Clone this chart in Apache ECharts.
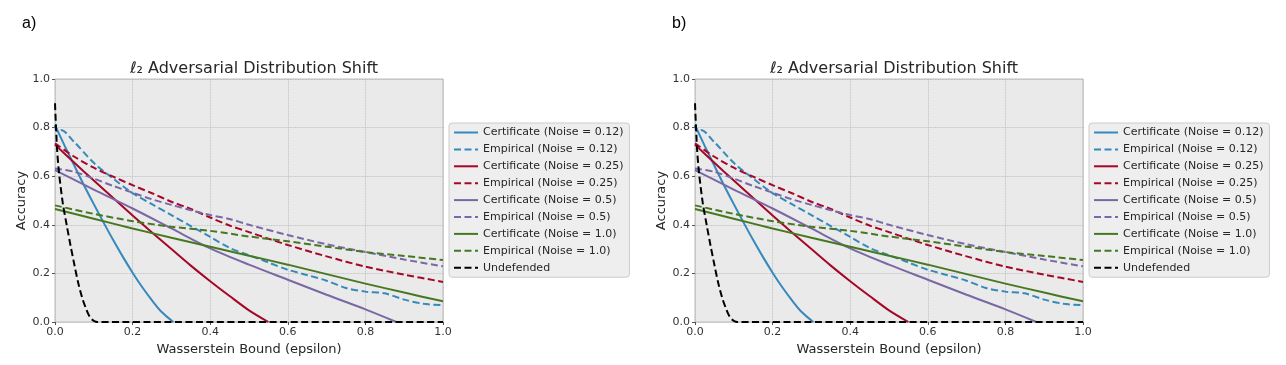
<!DOCTYPE html>
<html>
<head>
<meta charset="utf-8">
<script src="https://cdn.jsdelivr.net/npm/echarts@6/dist/echarts.min.js"></script>
<style>
html, body { margin: 0; padding: 0; background: #fff; }
#main { width: 1286px; height: 365px; }
</style>
</head>
<body>
<div id="main"></div>
<script>
// series data: [epsilon, accuracy]
var certNoise012 = [[0,0.81],[0.025,0.725],[0.05,0.643],[0.075,0.562],[0.1,0.485],[0.125,0.41],[0.15,0.337],[0.175,0.268],[0.2,0.203],[0.225,0.143],[0.25,0.089],[0.275,0.041],[0.305,0]];
var empNoise012 = [[0,0.81],[0.005,0.785],[0.015,0.79],[0.05,0.74],[0.1,0.655],[0.15,0.59],[0.2,0.53],[0.25,0.485],[0.3,0.44],[0.35,0.395],[0.4,0.35],[0.45,0.305],[0.5,0.275],[0.55,0.245],[0.6,0.215],[0.65,0.193],[0.7,0.17],[0.75,0.14],[0.8,0.125],[0.85,0.118],[0.9,0.092],[0.95,0.075],[1.0,0.069]];
var certNoise025 = [[0,0.73],[0.05,0.655],[0.1,0.582],[0.15,0.51],[0.2,0.438],[0.25,0.368],[0.3,0.3],[0.35,0.232],[0.4,0.168],[0.45,0.107],[0.5,0.048],[0.55,0]];
var empNoise025 = [[0,0.735],[0.05,0.68],[0.1,0.635],[0.15,0.598],[0.2,0.563],[0.25,0.53],[0.3,0.495],[0.35,0.465],[0.4,0.43],[0.45,0.397],[0.5,0.37],[0.55,0.343],[0.6,0.317],[0.7,0.27],[0.8,0.228],[0.9,0.195],[1.0,0.165]];
var certNoise05 = [[0,0.625],[0.1,0.545],[0.2,0.467],[0.3,0.385],[0.4,0.303],[0.5,0.236],[0.6,0.174],[0.7,0.112],[0.8,0.052],[0.88,0]];
var empNoise05 = [[0,0.632],[0.05,0.618],[0.1,0.59],[0.15,0.56],[0.2,0.532],[0.25,0.505],[0.3,0.482],[0.35,0.46],[0.4,0.44],[0.45,0.424],[0.5,0.4],[0.6,0.358],[0.7,0.32],[0.8,0.288],[0.9,0.257],[1.0,0.229]];
var certNoise10 = [[0,0.465],[0.1,0.425],[0.2,0.385],[0.3,0.347],[0.4,0.31],[0.5,0.273],[0.6,0.236],[0.7,0.197],[0.8,0.158],[0.9,0.121],[1.0,0.085]];
var empNoise10 = [[0,0.48],[0.1,0.445],[0.2,0.415],[0.3,0.392],[0.4,0.375],[0.5,0.352],[0.6,0.332],[0.7,0.31],[0.8,0.288],[0.9,0.272],[1.0,0.255]];
var undefended = [[0,0.9],[0.005,0.72],[0.01,0.62],[0.02,0.49],[0.03,0.4],[0.04,0.315],[0.05,0.235],[0.06,0.16],[0.07,0.1],[0.08,0.055],[0.09,0.02],[0.1,0.005],[0.11,0],[1.0,0]];

var seriesNames = ['Certificate (Noise = 0.12)', 'Empirical (Noise = 0.12)', 'Certificate (Noise = 0.25)', 'Empirical (Noise = 0.25)',
    'Certificate (Noise = 0.5)', 'Empirical (Noise = 0.5)', 'Certificate (Noise = 1.0)', 'Empirical (Noise = 1.0)', 'Undefended'];
var seriesData = [certNoise012, empNoise012, certNoise025, empNoise025, certNoise05, empNoise05, certNoise10, empNoise10, undefended];
var seriesColors = ['#348ABD', '#348ABD', '#A60628', '#A60628', '#7A68A6', '#7A68A6', '#467821', '#467821', '#000000'];
var seriesDashed = [false, true, false, true, false, true, false, true, true];
var tickLabels = ['0.0', '0.2', '0.4', '0.6', '0.8', '1.0'];
var panelLabels = ['a)', 'b)'];

var font = 'DejaVu Sans';
var panelLeft = [55, 695];
var legendLeft = [449, 1089];

var grids = [], xAxes = [], yAxes = [], series = [], legends = [], titles = [];

for (var p = 0; p < 2; p++) {
    grids.push({
        left: panelLeft[p], top: 79, width: 388, height: 243,
        show: true, backgroundColor: '#eaeaea', borderColor: '#bcbcbc', borderWidth: 1
    });
    xAxes.push({
        gridIndex: p, type: 'value', min: 0, max: 1, interval: 0.2,
        name: 'Wasserstein Bound (epsilon)', nameLocation: 'middle', nameGap: 18,
        nameTextStyle: { fontFamily: font, fontSize: 13, color: '#262626' },
        axisLine: { show: false },
        axisTick: { show: true, length: 3, lineStyle: { color: '#555' } },
        axisLabel: { fontFamily: font, fontSize: 11, color: '#333', margin: 5,
            formatter: function (v) { return tickLabels[Math.round(v * 5)]; } },
        splitLine: { show: true, lineStyle: { color: '#b2b2b2', type: 'dotted', width: 0.8 } }
    });
    yAxes.push({
        gridIndex: p, type: 'value', min: 0, max: 1, interval: 0.2,
        name: 'Accuracy', nameLocation: 'middle', nameGap: 27,
        nameTextStyle: { fontFamily: font, fontSize: 13, color: '#262626' },
        axisLine: { show: false },
        axisTick: { show: true, length: 3, lineStyle: { color: '#555' } },
        axisLabel: { fontFamily: font, fontSize: 11, color: '#333', margin: 5,
            formatter: function (v) { return tickLabels[Math.round(v * 5)]; } },
        splitLine: { show: true, lineStyle: { color: '#b2b2b2', type: 'dotted', width: 0.8 } }
    });
    for (var i = 0; i < seriesNames.length; i++) {
        series.push({
            name: seriesNames[i], type: 'line', xAxisIndex: p, yAxisIndex: p,
            data: seriesData[i], smooth: 0.3, symbol: 'none',
            lineStyle: { color: seriesColors[i], width: 2, type: seriesDashed[i] ? [7, 3.5] : 'solid' },
            itemStyle: { color: seriesColors[i] },
            z: i === 8 ? 3 : 2
        });
    }
    legends.push({
        data: seriesNames, orient: 'vertical', left: legendLeft[p], top: 123,
        itemWidth: 24, itemHeight: 10, itemGap: 5.9,
        itemStyle: { color: 'transparent', borderColor: 'transparent', borderWidth: 0 },
        backgroundColor: '#eeeeee', borderColor: '#cccccc', borderWidth: 1, borderRadius: 3,
        padding: [4, 6, 4, 4],
        textStyle: { fontFamily: font, fontSize: 11, color: '#262626' }
    });
    titles.push({
        text: 'ℓ₂ Adversarial Distribution Shift',
        left: panelLeft[p] + 194, top: 56, textAlign: 'center',
        textStyle: { fontFamily: font, fontSize: 16, fontWeight: 'normal', color: '#262626' }
    });
    titles.push({
        text: panelLabels[p],
        left: p === 0 ? 17 : 667, top: 11,
        textStyle: { fontFamily: 'Liberation Sans', fontSize: 16, fontWeight: 'normal', color: '#000' }
    });
}

var chart = echarts.init(document.getElementById('main'));
chart.setOption({
    animation: false,
    title: titles,
    grid: grids,
    xAxis: xAxes,
    yAxis: yAxes,
    legend: legends,
    series: series
});
</script>
</body>
</html>
